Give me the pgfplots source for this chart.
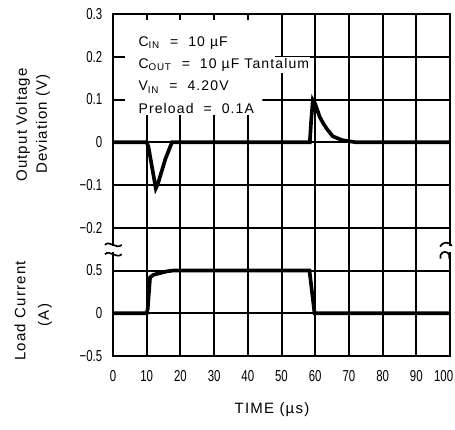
\documentclass[border=0pt]{standalone}
\usepackage{fontspec}
\setmainfont{Liberation Sans}[LetterSpace=8]
\newfontfamily\tickfont{Liberation Sans}[FakeStretch=0.72]
\usepackage{pgfplots}
\pgfplotsset{compat=1.18}

\begin{document}
\begin{tikzpicture}
% voltage axis (top part of the grid)
\begin{axis}[
    scale only axis, width=202.2pt, height=205.2pt,
    xmin=0, xmax=100, ymin=-0.5, ymax=0.3,
    xtick={0,10,...,100},
    xticklabels={0,10,20,30,40,50,60,70,80,90,\makebox[3.8pt][r]{100}},
    ytick={-0.5,-0.4,-0.3,-0.2,-0.1,0,0.1,0.2,0.3},
    yticklabels={−0.5,0,0.5,−0.2,−0.1,0,0.1,0.2,0.3},
    axis line style={line width=1.2pt},
    major tick length=0pt,
    clip=false,
    /pgf/number format/assume math mode=true,
    ticklabel style={font=\tickfont\fontsize{9.5}{10}\selectfont},
    xticklabel style={anchor=center, yshift=-12pt},
    yticklabel style={xshift=-3pt},
    gridline/.style={black, line width=1.2pt, forget plot},
  ]
  % grid lines
  \addplot[gridline] coordinates {(10,-0.5) (10,0.3)};
  \addplot[gridline] coordinates {(20,-0.5) (20,0.3)};
  \addplot[gridline] coordinates {(30,-0.5) (30,0.3)};
  \addplot[gridline] coordinates {(40,-0.5) (40,0.3)};
  \addplot[gridline] coordinates {(50,-0.5) (50,0.3)};
  \addplot[gridline] coordinates {(60,-0.5) (60,0.3)};
  \addplot[gridline] coordinates {(70,-0.5) (70,0.3)};
  \addplot[gridline] coordinates {(80,-0.5) (80,0.3)};
  \addplot[gridline] coordinates {(90,-0.5) (90,0.3)};
  \addplot[gridline] coordinates {(0,0.2) (100,0.2)};
  \addplot[gridline] coordinates {(0,0.1) (100,0.1)};
  \addplot[gridline] coordinates {(0,0) (100,0)};
  \addplot[gridline] coordinates {(0,-0.1) (100,-0.1)};
  \addplot[gridline] coordinates {(0,-0.2) (100,-0.2)};
  \addplot[gridline] coordinates {(0,-0.3) (100,-0.3)};
  \addplot[gridline] coordinates {(0,-0.4) (100,-0.4)};
  % white area behind the conditions text
  \addplot[fill=white, draw=none, forget plot] coordinates
    {(0.3,0.082) (44.3,0.082) (44.3,0.102) (48,0.102) (48,0.297) (0.3,0.297)} -- cycle;
  % short tick marks inside the text area
  \addplot[gridline] coordinates {(0,0.2) (3.5,0.2)};
  \addplot[gridline] coordinates {(0,0.1) (3.5,0.1)};
  \addplot[gridline] coordinates {(10,0.3) (10,0.286)};
  \addplot[gridline] coordinates {(20,0.3) (20,0.286)};
  \addplot[gridline] coordinates {(30,0.3) (30,0.286)};
  \addplot[gridline] coordinates {(40,0.3) (40,0.286)};
  % output voltage deviation
  \addplot[black, line width=2.2pt] coordinates {
    (0,0) (10,0) (10.5,-0.01) (12.7,-0.108) (13.3,-0.098) (15.5,-0.04)
    (17.5,0) (58.4,0) (58.8,0.05) (59.3,0.099) (60,0.09) (61.3,0.06)
    (62.4,0.044) (63.4,0.032) (65.2,0.014) (68,0.005) (72,0) (100,0)
  };
  \begin{scope}[every node/.style={anchor=west, fill=white, inner sep=0.8pt,
      font=\fontsize{8.4}{9}\selectfont}]
    \node at (axis cs:7.1,0.232) {C\textsubscript{IN}\ \ =\ \ 10 µF};
    \node at (axis cs:7.1,0.181) {C\textsubscript{OUT}\ \ =\ \ 10 µF Tantalum};
    \node at (axis cs:7.1,0.129) {V\textsubscript{IN}\ \ =\ \ 4.20V};
    \node at (axis cs:7.1,0.080) {Preload\ \ =\ \ 0.1A};
  \end{scope}
\end{axis}
% current axis (same box, lower part)
\begin{axis}[
    scale only axis, width=202.2pt, height=205.2pt,
    xmin=0, xmax=100, ymin=-0.5, ymax=3.5,
    xtick=\empty, ytick=\empty,
    axis line style={line width=1.2pt},
    clip=false,
  ]
  \addplot[black, line width=2.2pt] coordinates {
    (0,0) (10,0) (10.3,0.05) (11,0.42) (12,0.45) (14,0.47) (16,0.49)
    (18,0.5) (58.3,0.5) (59.8,0) (100,0)
  };
  % axis break marks
  \fill[white] (axis cs:-1.2,0.715) rectangle (axis cs:1.2,0.785);
  \fill[white] (axis cs:98.8,0.715) rectangle (axis cs:101.2,0.785);
  \draw[line width=1pt] (axis cs:-2.4,0.80) .. controls (axis cs:-1,0.86) and (axis cs:1,0.74) .. (axis cs:2.6,0.80);
  \draw[line width=1pt] (axis cs:-2.4,0.69) .. controls (axis cs:-1,0.75) and (axis cs:1,0.63) .. (axis cs:2.6,0.69);
  \draw[line width=1pt] (axis cs:97,0.78) .. controls (axis cs:98,0.84) and (axis cs:99.5,0.84) .. (axis cs:100.6,0.79);
  \draw[line width=1pt] (axis cs:97.2,0.64) -- (axis cs:97.2,0.68) .. controls (axis cs:97.6,0.73) and (axis cs:99.4,0.73) .. (axis cs:99.8,0.68) -- (axis cs:99.8,0.64);
\end{axis}
% axis titles
\node[rotate=90, font=\fontsize{9}{10}\selectfont] at (-54pt,138.6pt) {Output Voltage};
\node[rotate=90, font=\fontsize{9}{10}\selectfont] at (-42pt,139.2pt) {Deviation (V)};
\node[rotate=90, font=\fontsize{9}{10}\selectfont] at (-55.8pt,27pt) {Load Current};
\node[rotate=90, font=\fontsize{9}{10}\selectfont] at (-40.8pt,24.6pt) {(A)};
\node[font=\fontsize{9}{10}\selectfont] at (95.4pt,-32.4pt) {TIME (µs)};
\pgfresetboundingbox
\path[use as bounding box] (-67.8pt,-43.8pt) rectangle (205.2pt,213.6pt);
\end{tikzpicture}
\end{document}
